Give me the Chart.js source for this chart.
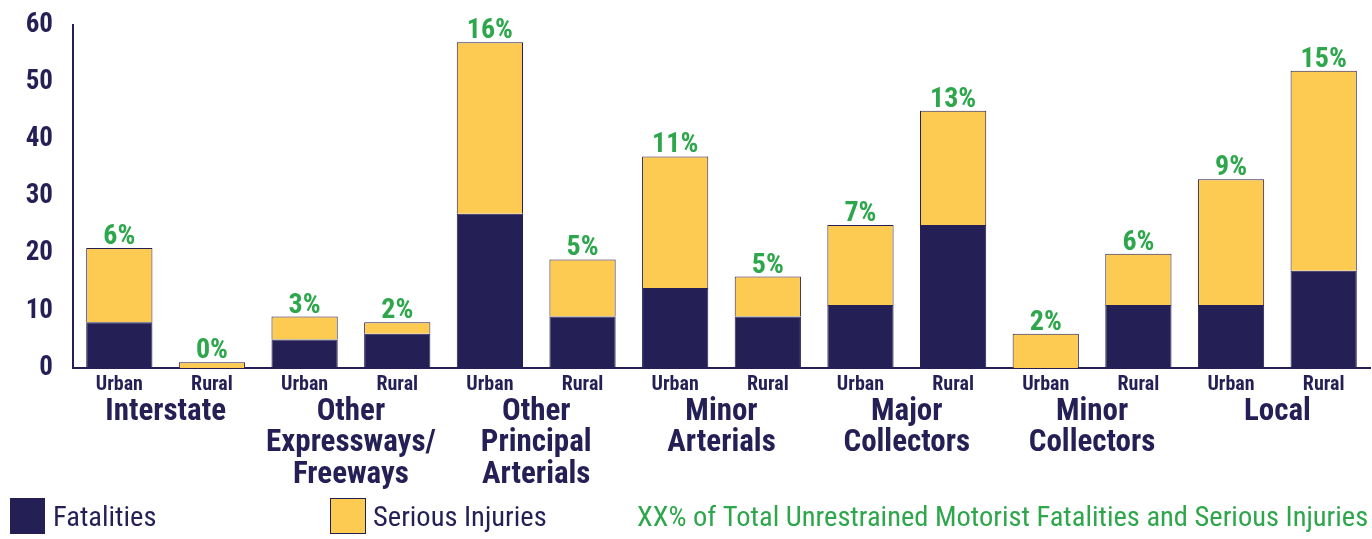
<!DOCTYPE html>
<html><head><meta charset="utf-8">
<script src="https://cdn.jsdelivr.net/npm/chart.js@4.4.0/dist/chart.umd.min.js"></script>
<style>html,body{margin:0;padding:0;background:#fff;}#wrap{width:1372px;height:539px;position:relative;}</style>
</head><body><div id="wrap"><canvas id="c"></canvas></div>
<script>
const areaLabels = ['Urban','Rural','Urban','Rural','Urban','Rural','Urban','Rural','Urban','Rural','Urban','Rural','Urban','Rural'];
const groupNames = [
  ['Interstate'],
  ['Other','Expressways/','Freeways'],
  ['Other','Principal','Arterials'],
  ['Minor','Arterials'],
  ['Major','Collectors'],
  ['Minor','Collectors'],
  ['Local']
];
const fatalities     = [8, 0, 5, 6, 27, 9, 14, 9, 11, 25, 0, 11, 11, 17];
const seriousInjuries= [13, 1, 4, 2, 30, 10, 23, 7, 14, 20, 6, 9, 22, 35];
const percentShares  = ['6%','0%','3%','2%','16%','5%','11%','5%','7%','13%','2%','6%','9%','15%'];
const yTickValues    = [0,10,20,30,40,50,60];
const legendLabels   = ['Fatalities','Serious Injuries','XX% of Total Unrestrained Motorist Fatalities and Serious Injuries'];

const NAVY='#241f55', YELLOW='#fdca52', GREEN='#2ea64c';
const FONT='"Liberation Sans Narrow","Arial Narrow","Roboto Condensed","DejaVu Sans Condensed",sans-serif';

const overlay = {
  id:'overlay',
  afterDraw(chart){
    const ctx=chart.ctx, x=chart.scales.x;
    ctx.save();
    const meta=chart.getDatasetMeta(1);
    ctx.fillStyle=GREEN; ctx.font='bold 28px '+FONT; ctx.textAlign='center'; ctx.textBaseline='alphabetic';
    meta.data.forEach((bar,i)=>{ ctx.fillText(percentShares[i], bar.x, bar.y-4); });
    ctx.fillStyle=NAVY; ctx.font='bold 31px '+FONT; ctx.textBaseline='middle';
    groupNames.forEach((lines,g)=>{
      const cx=(x.getPixelForValue(2*g)+x.getPixelForValue(2*g+1))/2;
      lines.forEach((t,k)=>ctx.fillText(t,cx,412+k*31.5));
    });
    ctx.fillStyle=NAVY; ctx.fillRect(10,498,35,36);
    ctx.fillStyle=YELLOW; ctx.fillRect(330,498,35,36);
    ctx.strokeStyle=NAVY; ctx.lineWidth=1; ctx.strokeRect(330.5,498.5,35,35);
    ctx.font='28.5px '+FONT; ctx.textAlign='left';
    ctx.fillStyle=NAVY; ctx.fillText(legendLabels[0],53,519);
    ctx.fillText(legendLabels[1],373,519);
    ctx.fillStyle=GREEN; ctx.fillText(legendLabels[2],637,519);
    ctx.restore();
  }
};

new Chart(document.getElementById('c'),{
  type:'bar',
  data:{labels:areaLabels,datasets:[
    {label:'Fatalities',data:fatalities,backgroundColor:NAVY,borderColor:NAVY,borderWidth:1,barPercentage:0.715,categoryPercentage:1},
    {label:'Serious Injuries',data:seriousInjuries,backgroundColor:YELLOW,borderColor:NAVY,borderWidth:1,barPercentage:0.715,categoryPercentage:1}
  ]},
  options:{
    responsive:true,maintainAspectRatio:false,animation:false,
    layout:{padding:{top:25,right:2,left:0,bottom:0}},
    plugins:{legend:{display:false},tooltip:{enabled:false}},
    scales:{
      x:{stacked:true,grid:{display:false,drawTicks:false},border:{color:NAVY,width:2},
         ticks:{color:NAVY,font:{family:FONT,size:20,weight:'bold'},padding:5,maxRotation:0},
         afterFit(s){s.height=171;s.paddingLeft=0;s.paddingRight=0;}},
      y:{stacked:true,min:0,max:60,grid:{display:false,drawTicks:false},border:{color:NAVY,width:2},
         afterBuildTicks(s){s.ticks=yTickValues.map(v=>({value:v}));},
         ticks:{color:NAVY,font:{family:FONT,size:27,weight:'bold'},padding:20},
         afterFit(s){s.width=73;s.paddingTop=0;s.paddingBottom=0;}}
    }
  },
  plugins:[overlay]
});
</script></body></html>
